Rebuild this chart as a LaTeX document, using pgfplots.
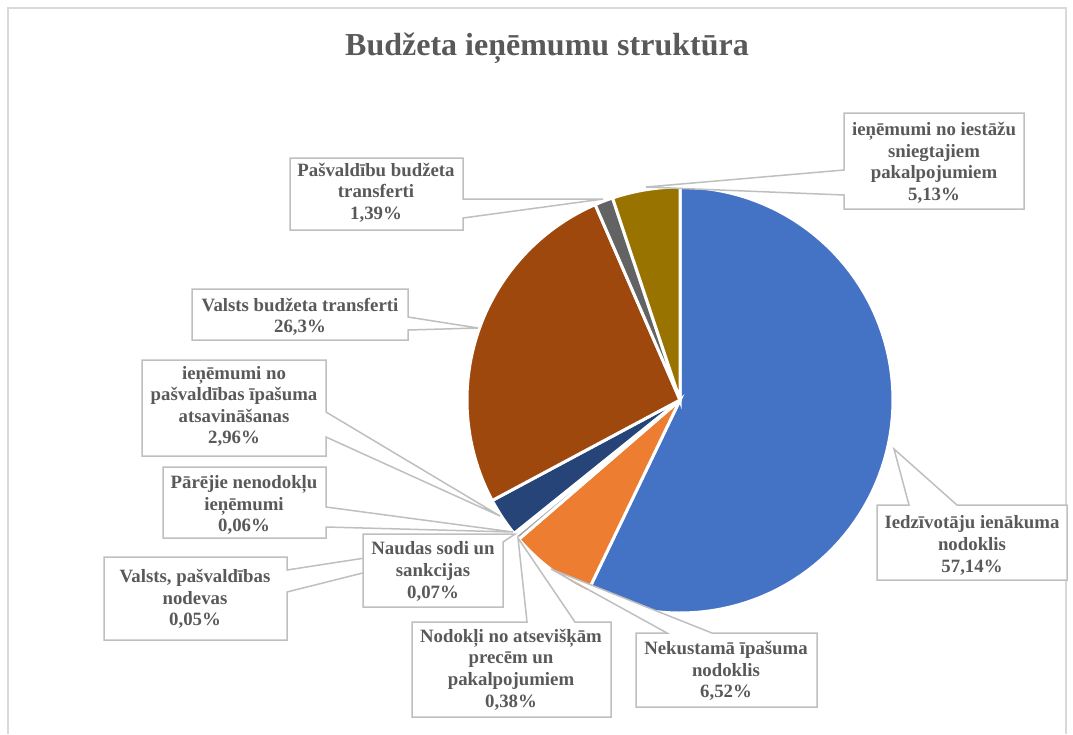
\documentclass[border=0pt]{standalone}
\usepackage{pgfplots}
\pgfplotsset{compat=1.18}
\usepackage{fontspec}
\setmainfont{Liberation Serif}
\definecolor{cIedz}{HTML}{4472C4}
\definecolor{cNek}{HTML}{ED7D31}
\definecolor{cNod}{HTML}{A5A5A5}
\definecolor{cNaud}{HTML}{FFC000}
\definecolor{cNodev}{HTML}{5B9BD5}
\definecolor{cPar}{HTML}{70AD47}
\definecolor{cIpas}{HTML}{264478}
\definecolor{cVbt}{HTML}{9E480E}
\definecolor{cPbt}{HTML}{636363}
\definecolor{cIest}{HTML}{997300}
\definecolor{txt}{HTML}{595959}
\definecolor{lgray}{HTML}{BFBFBF}
\definecolor{framecol}{HTML}{D9D9D9}
% running cumulative share (percent)
\gdef\cum{0}
\newcommand{\pieslice}[2]{%
  \pgfmathsetmacro\sA{3.6*\cum}%
  \pgfmathsetmacro\newcum{\cum+#1}%
  \xdef\cum{\newcum}%
  \pgfmathsetmacro\sB{3.6*\cum}%
  \edef\tmp{\noexpand\addplot[fill=#2,draw=white,line width=1.5bp,domain=\sA:\sB,samples=90,variable=\noexpand\t]
    ({680+213*sin(\noexpand\t)},{400-213*cos(\noexpand\t)}) -- (axis cs:680,400) -- cycle;}%
  \tmp}
\begin{document}
\begin{tikzpicture}[
  lab/.style={font=\fontsize{9.4bp}{10.8bp}\selectfont\bfseries, text=txt, align=center, inner sep=0pt},
  callout/.style={draw=lgray, fill=white, line width=0.75bp, line join=miter}]
\begin{axis}[
  scale only axis, width=536.5bp, height=367bp,
  xmin=0, xmax=1073, ymin=0, ymax=734, y dir=reverse,
  hide axis, clip=false]
\path (0,0) rectangle (1073,734);
\draw[framecol, line width=0.75bp] (8,734) -- (8,8) -- (1066,8) -- (1066,734);
% pie slices, clockwise from 12 o'clock (values in percent)
\pieslice{57.14}{cIedz}
\pieslice{6.52}{cNek}
\pieslice{0.38}{cNod}
\pieslice{0.07}{cNaud}
\pieslice{0.05}{cNodev}
\pieslice{0.06}{cPar}
\pieslice{2.96}{cIpas}
\pieslice{26.3}{cVbt}
\pieslice{1.39}{cPbt}
\pieslice{5.13}{cIest}
% title
\node[font=\fontsize{16bp}{19bp}\selectfont\bfseries, text=txt] at (547,48) {Budžeta ieņēmumu struktūra};
% callouts
\draw[callout] (877,505) -- (909,505) -- (894,449) -- (957,505) -- (1067,505) -- (1067,580) -- (877,580) -- cycle;
\node[lab] at (972,545.5) {Iedzīvotāju ienākuma\\nodoklis\\57,14\%};
\draw[callout] (636,633) -- (667,633) -- (551,569) -- (712,633) -- (817,633) -- (817,707) -- (636,707) -- cycle;
\node[lab] at (726,671) {Nekustamā īpašuma\\nodoklis\\6,52\%};
\draw[callout] (412,622) -- (527,622) -- (518,538) -- (575,622) -- (611,622) -- (611,717) -- (412,717) -- cycle;
\node[lab] at (511,669.5) {Nodokļi no atsevišķām\\precēm un\\pakalpojumiem\\0,38\%};
\draw[callout] (104,557) -- (287,557) -- (287,570) -- (514,535) -- (287,592) -- (287,640) -- (104,640) -- cycle;
\node[lab] at (195,599) {Valsts, pašvaldības\\nodevas\\0,05\%};
\draw[callout] (363,534) -- (496,534) -- (515,534) -- (503,542) -- (503,607) -- (363,607) -- cycle;
\node[lab] at (433,571.5) {Naudas sodi un\\sankcijas\\0,07\%};
\draw[callout] (163,467) -- (326,467) -- (326,507) -- (513,532) -- (326,527) -- (326,538) -- (163,538) -- cycle;
\node[lab] at (244,505) {Pārējie nenodokļu\\ieņēmumi\\0,06\%};
\draw[callout] (142,360) -- (326,360) -- (326,412) -- (500,516) -- (326,437) -- (326,456) -- (142,456) -- cycle;
\node[lab] at (234,406.5) {ieņēmumi no\\pašvaldības īpašuma\\atsavināšanas\\2,96\%};
\draw[callout] (192,289) -- (408,289) -- (408,317) -- (478,328) -- (408,330) -- (408,340) -- (192,340) -- cycle;
\node[lab] at (300,317) {Valsts budžeta transferti\\26,3\%};
\draw[callout] (290,158) -- (463,158) -- (463,199) -- (603,199) -- (463,218) -- (463,230) -- (290,230) -- cycle;
\node[lab] at (376,192.5) {Pašvaldību budžeta\\transferti\\1,39\%};
\draw[callout] (844,113) -- (1024,113) -- (1024,209) -- (844,209) -- (844,195) -- (646,187) -- (844,170) -- cycle;
\node[lab] at (934,163) {ieņēmumi no iestāžu\\sniegtajiem\\pakalpojumiem\\5,13\%};
\end{axis}
\end{tikzpicture}
\end{document}
